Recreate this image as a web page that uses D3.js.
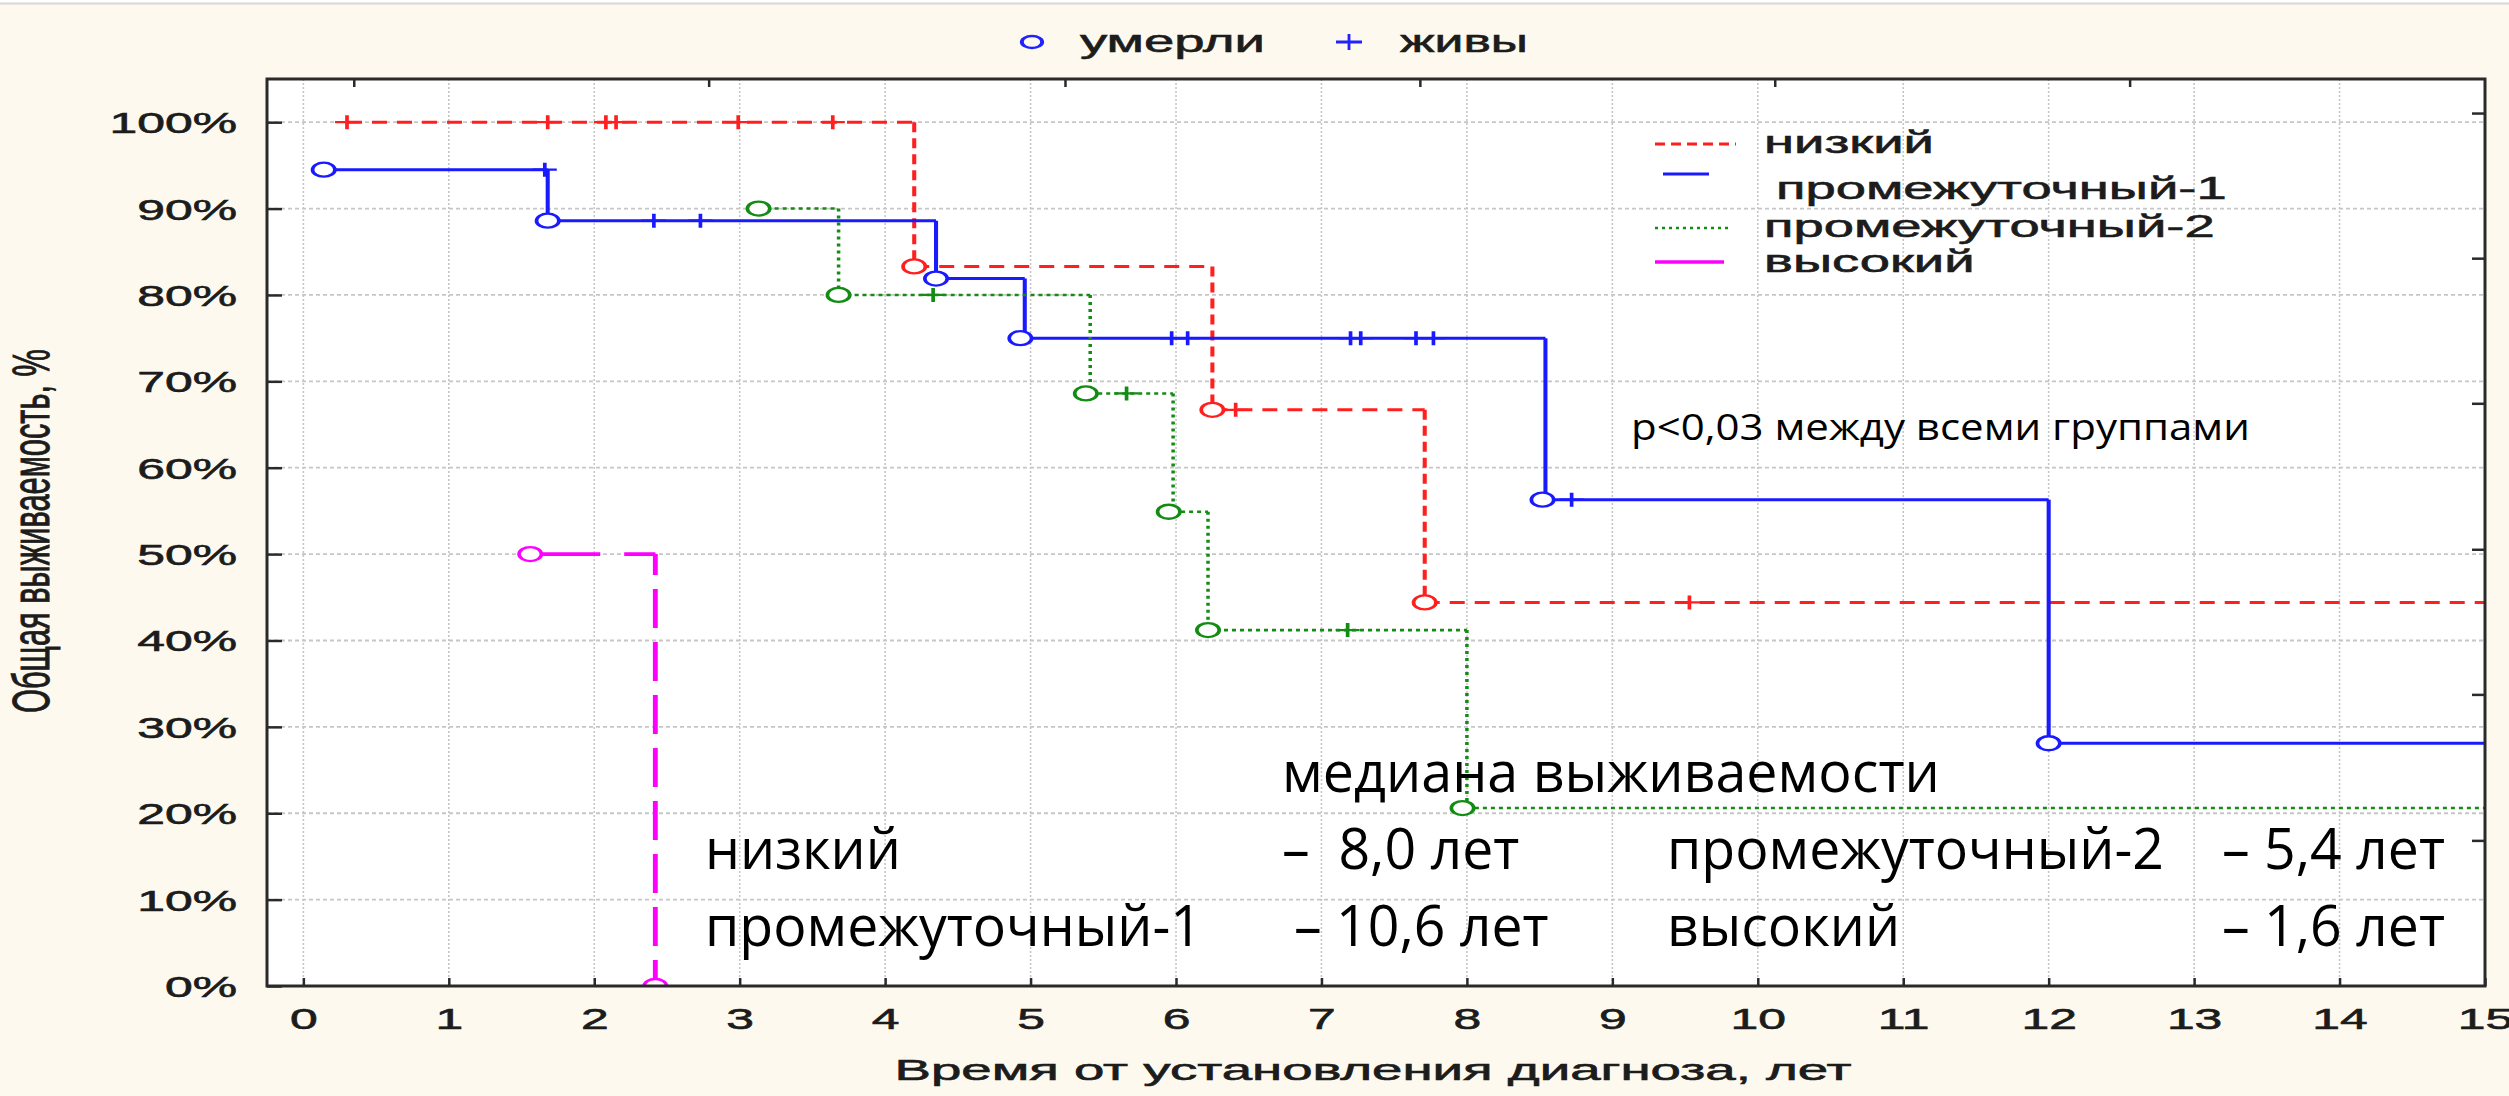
<!DOCTYPE html>
<html>
<head>
<meta charset="utf-8">
<script src="https://cdn.jsdelivr.net/npm/d3@7"></script>
<style>
	body { margin: 0; background: #fdf9ee; }
	svg { display: block; }
	.stat { font-family: "Liberation Sans", Arial, sans-serif; fill: #1c1c1c; stroke: #1c1c1c; stroke-width: 0.6px; }
	.note { font-family: "Open Sans", sans-serif; fill: #000; }
</style>
</head>
<body>
<svg id="chart" width="2509" height="1096"></svg>
<script>
	// ---- data ----
	var xTicks = d3.range(0, 16);                 // years
	var yTicks = d3.range(0, 101, 10);            // %
	var topMarks = [0.35, 2.79, 5.24, 7.68, 10.12, 12.56];   // secondary top axis ticks (years)
	var rightMarks = [16.8, 33.7, 50.5, 67.4, 84.2, 101.0];  // secondary right axis ticks (%)

	var groups = ["низкий", "промежуточный-1", "промежуточный-2", "высокий"];

	// step points [time, survival %]
	var lowSteps = [[0.30, 100], [4.20, 83.3], [6.25, 66.7], [7.71, 44.4]];
	var lowDied = [[4.20, 83.3], [6.25, 66.7], [7.71, 44.4]];
	var lowAlive = [[0.30, 100], [1.68, 100], [2.08, 100], [2.15, 100], [2.99, 100], [3.64, 100], [6.41, 66.7], [9.53, 44.4]];

	var int1Steps = [[0.14, 94.5], [1.68, 88.6], [4.35, 81.9], [4.96, 75.0], [8.54, 56.3], [12.0, 28.1]];
	var int1Died = [[0.14, 94.5], [1.68, 88.6], [4.35, 81.9], [4.93, 75.0], [8.52, 56.3], [12.0, 28.1]];
	var int1Alive = [[1.66, 94.5], [2.41, 88.6], [2.73, 88.6], [5.97, 75.0], [6.08, 75.0], [7.20, 75.0], [7.27, 75.0], [7.65, 75.0], [7.77, 75.0], [8.72, 56.3]];

	var int2Steps = [[3.13, 90.0], [3.68, 80.0], [5.41, 68.6], [5.98, 54.9], [6.22, 41.2], [8.0, 20.6]];
	var int2Died = [[3.13, 90.0], [3.68, 80.0], [5.38, 68.6], [5.95, 54.9], [6.22, 41.2], [7.97, 20.6]];
	var int2Alive = [[4.33, 80.0], [5.66, 68.6], [7.18, 41.2]];

	var highSteps = [[1.56, 50.0], [2.42, 0]];
	var highDied = [[1.56, 50.0], [2.42, 0]];
	var highAlive = [];

	var medianNames = ["низкий", "промежуточный-1", "промежуточный-2", "высокий"];
	var medianValues = ["8,0", "10,6", "5,4", "1,6"];

	// ---- layout ----
	var W = 2509, H = 1096;
	var plot = { left: 267, right: 2485, top: 79, bottom: 986 };
	var SX = 1.72; // the source picture is stretched horizontally

	var svg = d3.select("#chart");

	svg.append("rect").attr("width", W).attr("height", H).attr("fill", "#fdf9ee");
	svg.append("rect").attr("width", W).attr("height", 3).attr("fill", "#ffffff");
	svg.append("line").attr("x1", 0).attr("x2", W).attr("y1", 3.5).attr("y2", 3.5)
		.attr("stroke", "#d8d8d8").attr("stroke-width", 2);

	var x = d3.scaleLinear().domain([-0.25, 15]).range([plot.left, plot.right]);
	var y = d3.scaleLinear().domain([0, 105]).range([plot.bottom, plot.top]);

	svg.append("defs").append("clipPath").attr("id", "clip")
		.append("rect")
		.attr("x", plot.left).attr("y", plot.top)
		.attr("width", plot.right - plot.left).attr("height", plot.bottom - plot.top);

	svg.append("rect")
		.attr("x", plot.left).attr("y", plot.top)
		.attr("width", plot.right - plot.left).attr("height", plot.bottom - plot.top)
		.attr("fill", "#ffffff");

	//grid
	var grid = svg.append("g");
	grid.selectAll(".vgrid")
		.data(xTicks)
		.enter().append("line")
		.attr("x1", function (d) { return x(d); })
		.attr("x2", function (d) { return x(d); })
		.attr("y1", plot.top).attr("y2", plot.bottom)
		.attr("stroke", "#c6c6c6").attr("stroke-width", 1.6)
		.attr("stroke-dasharray", "2,2");
	grid.selectAll(".hgrid")
		.data(yTicks)
		.enter().append("line")
		.attr("x1", plot.left).attr("x2", plot.right)
		.attr("y1", function (d) { return y(d); })
		.attr("y2", function (d) { return y(d); })
		.attr("stroke", "#c6c6c6").attr("stroke-width", 1.8)
		.attr("stroke-dasharray", "4,3");

	//survival curves
	var series = [
		{ name: groups[0], steps: lowSteps, end: 15, died: lowDied, alive: lowAlive,
		  color: "#ff1f1f", width: 3, dashH: "15,10", dashV: "10,6", offV: 0 },
		{ name: groups[1], steps: int1Steps, end: 15, died: int1Died, alive: int1Alive,
		  color: "#1a1aff", width: 3, dashH: null, dashV: null, offV: 0 },
		{ name: groups[2], steps: int2Steps, end: 15, died: int2Died, alive: int2Alive,
		  color: "#138c13", width: 2.6, dashH: "4,4", dashV: "3,4", offV: 0 },
		{ name: groups[3], steps: highSteps, end: 2.42, died: highDied, alive: highAlive,
		  color: "#ff00ff", width: 3.6, dashH: "70,24", dashV: "39,14", offV: 18 }
	];

	var curves = svg.append("g").attr("clip-path", "url(#clip)");

	series.forEach(function (s) {
		var hd = "", vd = "";
		s.steps.forEach(function (p, i) {
			var tEnd = i < s.steps.length - 1 ? s.steps[i + 1][0] : s.end;
			if (tEnd > p[0]) hd += "M" + x(p[0]) + "," + y(p[1]) + "H" + x(tEnd);
			if (i > 0) vd += "M" + x(p[0]) + "," + y(s.steps[i - 1][1]) + "V" + y(p[1]);
		});
		curves.append("path").attr("d", hd)
			.attr("fill", "none").attr("stroke", s.color).attr("stroke-width", s.width)
			.attr("stroke-dasharray", s.dashH);
		// vertical strokes look wider in the stretched source
		curves.append("path").attr("d", vd)
			.attr("fill", "none").attr("stroke", s.color).attr("stroke-width", s.width * 1.35)
			.attr("stroke-dasharray", s.dashV)
			.attr("stroke-dashoffset", s.offV);
	});

	//markers: circle = died, plus = alive (censored), drawn stretched like the source
	series.forEach(function (s) {
		curves.selectAll(null)
			.data(s.died)
			.enter().append("circle")
			.attr("transform", function (d) { return "translate(" + x(d[0]) + "," + y(d[1]) + ") scale(1.6,1)"; })
			.attr("r", 7)
			.attr("fill", "#ffffff").attr("stroke", s.color).attr("stroke-width", 2.3);
		curves.selectAll(null)
			.data(s.alive)
			.enter().append("path")
			.attr("transform", function (d) { return "translate(" + x(d[0]) + "," + y(d[1]) + ") scale(1.6,1)"; })
			.attr("d", "M-7.5,0H7.5M0,-7V7")
			.attr("fill", "none").attr("stroke", s.color).attr("stroke-width", 2.3);
	});

	//frame
	svg.append("rect")
		.attr("x", plot.left).attr("y", plot.top)
		.attr("width", plot.right - plot.left).attr("height", plot.bottom - plot.top)
		.attr("fill", "none").attr("stroke", "#2a2a2a").attr("stroke-width", 3);

	//axes
	var xAxis = svg.append("g")
		.attr("transform", "translate(0," + plot.bottom + ")")
		.call(d3.axisBottom(x).tickValues(xTicks).tickSize(-8).tickPadding(22).tickFormat(d3.format("d")));
	var yAxis = svg.append("g")
		.attr("transform", "translate(" + plot.left + ",0)")
		.call(d3.axisLeft(y).tickValues(yTicks).tickSize(-15).tickPadding(30 / SX).tickFormat(function (d) { return d + "%"; }));

	[xAxis, yAxis].forEach(function (g) {
		g.select(".domain").remove();
		g.selectAll(".tick line").attr("stroke", "#2a2a2a").attr("stroke-width", 2.5);
		g.selectAll(".tick text")
			.attr("class", "stat")
			.attr("font-size", 29)
			.attr("transform", "scale(" + SX + ",1)");
	});
	yAxis.selectAll(".tick text").attr("dy", "0.36em");

	//secondary ticks on top and right
	svg.append("g").selectAll("line")
		.data(topMarks)
		.enter().append("line")
		.attr("x1", function (d) { return x(d); }).attr("x2", function (d) { return x(d); })
		.attr("y1", plot.top).attr("y2", plot.top + 8)
		.attr("stroke", "#2a2a2a").attr("stroke-width", 2.5);
	svg.append("g").selectAll("line")
		.data(rightMarks)
		.enter().append("line")
		.attr("x1", plot.right - 13).attr("x2", plot.right)
		.attr("y1", function (d) { return y(d); }).attr("y2", function (d) { return y(d); })
		.attr("stroke", "#2a2a2a").attr("stroke-width", 2.5);

	//helpers for stretched text
	function placeText(sel, px, py, sx) {
		sel.attr("transform", "translate(" + px + "," + py + ") scale(" + sx + ",1)");
	}
	function fitText(sel, px, py, width) {
		var len = sel.node().getComputedTextLength();
		placeText(sel, px, py, width / len);
	}

	//axis titles
	var xTitle = svg.append("text").attr("class", "stat").attr("font-size", 29)
		.attr("text-anchor", "middle")
		.text("Время от установления диагноза, лет");
	fitText(xTitle, 1373, 1080, 957);

	var yTitle = svg.append("text").attr("class", "stat").attr("font-size", 31)
		.attr("text-anchor", "middle")
		.text("Общая выживаемость, %");
	var yLen = yTitle.node().getComputedTextLength();
	yTitle.attr("transform", "translate(49,531) scale(1.65," + (364 / yLen) + ") rotate(-90)");

	//top legend
	svg.append("circle").attr("transform", "translate(1032,42) scale(1.7,1)").attr("r", 6)
		.attr("fill", "none").attr("stroke", "#2222ff").attr("stroke-width", 2.3);
	fitText(svg.append("text").attr("class", "stat").attr("font-size", 32).text("умерли"), 1080, 52, 185);
	svg.append("path").attr("d", "M1336,42H1362M1349,34V50")
		.attr("stroke", "#2222ff").attr("stroke-width", 2.8);
	fitText(svg.append("text").attr("class", "stat").attr("font-size", 32).text("живы"), 1400, 52, 128);

	//inner legend
	var legendRows = [
		{ s: series[0], x1: 1655, x2: 1736, ly: 144, tx: 1764, ty: 153, dash: "10,6" },
		{ s: series[1], x1: 1663, x2: 1709, ly: 174, tx: 1776, ty: 199, dash: null },
		{ s: series[2], x1: 1655, x2: 1730, ly: 228, tx: 1764, ty: 237, dash: "3,4" },
		{ s: series[3], x1: 1655, x2: 1724, ly: 262, tx: 1764, ty: 272, dash: null }
	];
	legendRows.forEach(function (r) {
		svg.append("line")
			.attr("x1", r.x1).attr("x2", r.x2).attr("y1", r.ly).attr("y2", r.ly)
			.attr("stroke", r.s.color).attr("stroke-width", r.s.width)
			.attr("stroke-dasharray", r.dash);
		placeText(svg.append("text").attr("class", "stat").attr("font-size", 32).text(r.s.name),
			r.tx, r.ty, 1.7);
	});

	//annotations
	fitText(svg.append("text").attr("class", "note").attr("font-size", 36)
		.text("p<0,03 между всеми группами"), 1631, 440, 619);
	fitText(svg.append("text").attr("class", "note").attr("font-size", 57)
		.text("медиана выживаемости"), 1282, 792, 658);

	var probe = svg.append("text").attr("class", "note").attr("font-size", 57).text(medianNames[1]);
	var NS = 497 / probe.node().getComputedTextLength();
	probe.remove();

	var medianCells = [
		{ name: medianNames[0], value: medianValues[0], nx: 705, vx: 1282, by: 869, pad: "  " },
		{ name: medianNames[1], value: medianValues[1], nx: 705, vx: 1294, by: 946, pad: " " },
		{ name: medianNames[2], value: medianValues[2], nx: 1667, vx: 2222, by: 869, pad: " " },
		{ name: medianNames[3], value: medianValues[3], nx: 1667, vx: 2222, by: 946, pad: " " }
	];
	medianCells.forEach(function (c) {
		placeText(svg.append("text").attr("class", "note").attr("font-size", 57).text(c.name), c.nx, c.by, NS);
		placeText(svg.append("text").attr("class", "note").attr("font-size", 57)
			.attr("xml:space", "preserve")
			.text("–" + c.pad + c.value + " лет"), c.vx, c.by, NS);
	});
</script>
</body>
</html>
